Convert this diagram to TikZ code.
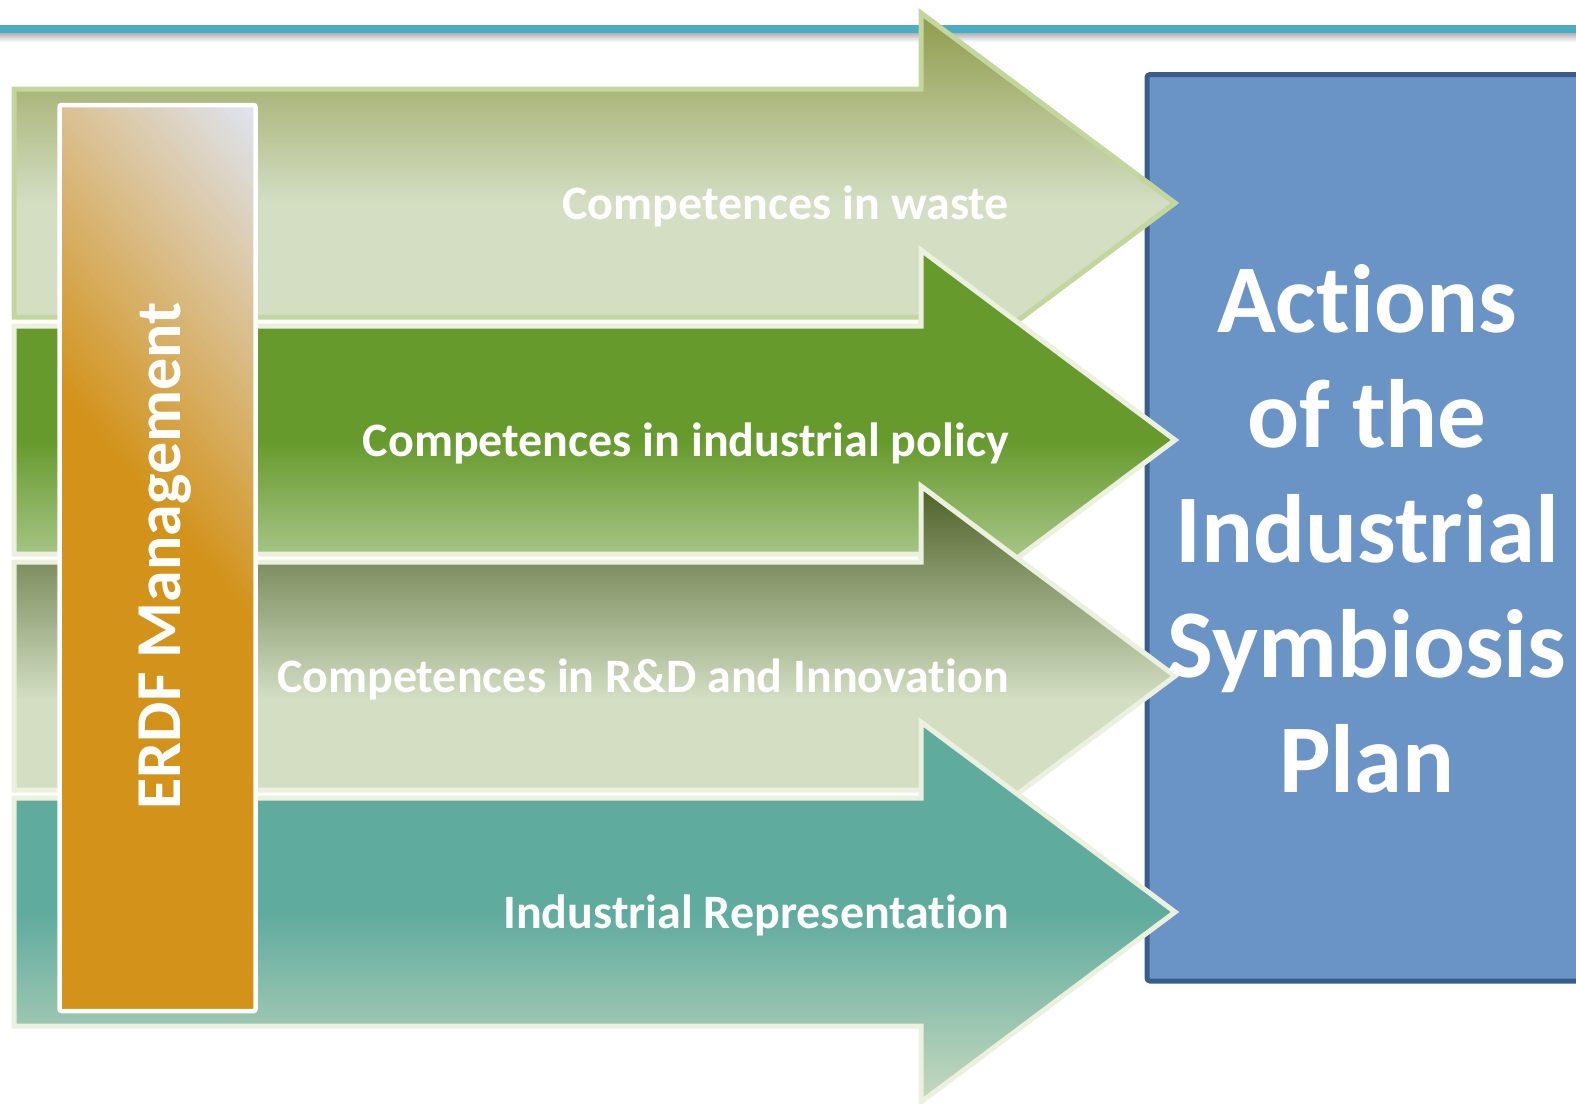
\documentclass[tikz,border=0pt]{standalone}
\usepackage{fontspec}
\setmainfont{Carlito}[Ligatures=NoCommon]
\definecolor{topline}{HTML}{4BACC6}
\definecolor{boxfill}{HTML}{6A94C6}
\definecolor{boxdraw}{HTML}{385D8A}
\definecolor{aDark}{HTML}{8F9B4A}
\definecolor{aLight}{HTML}{D3DEC3}
\definecolor{aEdge}{HTML}{C3D69B}
\definecolor{pale}{HTML}{EBF1DE}
\definecolor{bDark}{HTML}{669A2C}
\definecolor{bLight}{HTML}{CFE0BF}
\definecolor{cDark}{HTML}{4E6127}
\definecolor{dDark}{HTML}{5FAB9E}
\definecolor{dLight}{HTML}{C6D9BF}
\definecolor{erOrange}{HTML}{D39219}
\definecolor{erLight}{HTML}{DFE5F2}
\pgfdeclareverticalshading{shadeA}{100bp}{color(0bp)=(aLight); color(50bp)=(aLight); color(75bp)=(aDark); color(100bp)=(aDark)}
\pgfdeclareverticalshading{shadeB}{100bp}{color(0bp)=(bLight); color(25bp)=(bLight); color(50bp)=(bDark); color(100bp)=(bDark)}
\pgfdeclareverticalshading{shadeC}{100bp}{color(0bp)=(aLight); color(47bp)=(aLight); color(75bp)=(cDark); color(100bp)=(cDark)}
\pgfdeclareverticalshading{shadeD}{100bp}{color(0bp)=(dLight); color(25bp)=(dLight); color(50bp)=(dDark); color(100bp)=(dDark)}
\newcommand{\myarrow}[1]{(14,{#1-114}) -- (921,{#1-114}) -- (921,{#1-190}) -- (1175,#1) -- (921,{#1+190}) -- (921,{#1+114}) -- (14,{#1+114}) -- cycle}
\begin{document}
\begin{tikzpicture}[x=1pt,y=-1pt,
  arrowbox/.style={line width=5pt, line join=miter},
  armtext/.style={text=white, font=\fontsize{48}{56}\selectfont\bfseries, anchor=base east, inner sep=0pt},
]
\useasboundingbox (0,0) rectangle (1576,1103);
\clip (0,0) rectangle (1576,1103);
% top rule with soft shadow
\shade[top color=black!30, bottom color=white] (0,33) rectangle (1576,42);
\fill[topline] (0,25) rectangle (1576,33);
% target box
\draw[draw=boxdraw, fill=boxfill, line width=5pt, rounded corners=3pt] (1147,74.5) rectangle (1640,981);
% arrows
\shadedraw[arrowbox, shading=shadeA, draw=aEdge] \myarrow{203};
\node[armtext] (t1) at (1009,219) {Competences in waste};
\shadedraw[arrowbox, shading=shadeB, draw=pale] \myarrow{440};
\node[armtext] (t2) at (1009,456) {Competences in industrial policy};
\shadedraw[arrowbox, shading=shadeC, draw=pale] \myarrow{676};
\node[armtext] (t3) at (1009,692) {Competences in R\&D and Innovation};
\shadedraw[arrowbox, shading=shadeD, draw=pale] \myarrow{912};
\node[armtext] (t4) at (1009,928) {Industrial Representation};
% plan text
\node[align=center, text=white, font=\fontsize{97}{115}\selectfont\bfseries, inner sep=0pt] (plan) at (1367,529) {Actions\\of the\\Industrial\\Symbiosis\\Plan};
% ERDF box with diagonal gradient
\begin{scope}
  \clip (59.5,105) rectangle (255.5,1011);
  \fill[erOrange] (59.5,105) rectangle (255.5,1011);
  \begin{scope}[shift={(157.5,558)}]
    \begin{scope}[x={(0.766pt,0.643pt)}, y={(0.643pt,-0.766pt)}]
      \foreach \i in {0,...,59}{
        \pgfmathsetmacro{\pa}{30+\i*5.6}
        \pgfmathsetmacro{\pb}{30+(\i+1)*5.6+0.6}
        \pgfmathsetmacro{\pc}{100-(\i+0.5)*100/60}
        \fill[erOrange!\pc!erLight] (\pa,-800) -- (\pb,-800) -- (\pb,800) -- (\pa,800) -- cycle;
      }
      \fill[erLight] (366,-800) -- (900,-800) -- (900,800) -- (366,800) -- cycle;
    \end{scope}
  \end{scope}
\end{scope}
\node[draw=white, line width=4.5pt, rounded corners=2pt, minimum width=196pt, minimum height=906pt, inner sep=0pt, outer sep=0pt] (erdfbox) at (157.5,558) {};
\node[rotate=90, anchor=base, text=white, font=\fontsize{64}{70}\selectfont\bfseries, inner sep=0pt] (erdf) at (180,556) {ERDF Management};
\end{tikzpicture}
\end{document}
